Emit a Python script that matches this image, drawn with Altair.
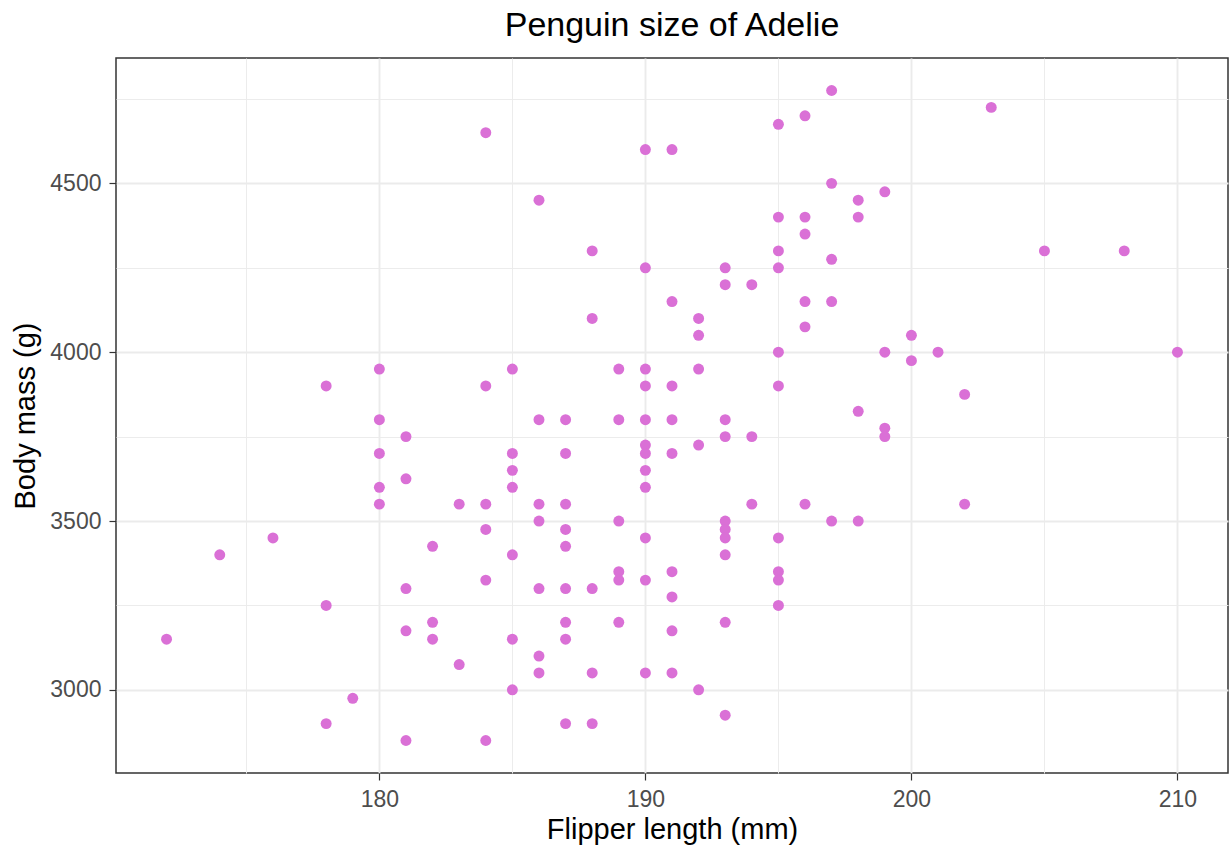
import altair as alt
import pandas as pd

# Adelie penguins: flipper length (mm) and body mass (g)
flipper_length_mm = [
    172, 174, 176,
    178, 178, 178,
    179,
    180, 180, 180, 180, 180,
    181, 181, 181, 181, 181,
    182, 182, 182,
    183, 183,
    184, 184, 184, 184, 184, 184,
    185, 185, 185, 185, 185, 185, 185,
    186, 186, 186, 186, 186, 186, 186,
    187, 187, 187, 187, 187, 187, 187, 187, 187,
    188, 188, 188, 188, 188,
    189, 189, 189, 189, 189, 189,
    190, 190, 190, 190, 190, 190, 190, 190, 190, 190, 190, 190,
    191, 191, 191, 191, 191, 191, 191, 191, 191,
    192, 192, 192, 192, 192,
    193, 193, 193, 193, 193, 193, 193, 193, 193, 193,
    194, 194, 194,
    195, 195, 195, 195, 195, 195, 195, 195, 195, 195,
    196, 196, 196, 196, 196, 196,
    197, 197, 197, 197, 197,
    198, 198, 198, 198,
    199, 199, 199, 199,
    200, 200,
    201,
    202, 202,
    203, 205, 208, 210,
]
body_mass_g = [
    3150, 3400, 3450,
    3900, 3250, 2900,
    2975,
    3950, 3800, 3700, 3600, 3550,
    3750, 3625, 3300, 3175, 2850,
    3425, 3200, 3150,
    3550, 3075,
    4650, 3900, 3550, 3475, 3325, 2850,
    3950, 3700, 3650, 3600, 3400, 3150, 3000,
    4450, 3800, 3550, 3500, 3300, 3100, 3050,
    3800, 3700, 3550, 3475, 3425, 3300, 3200, 3150, 2900,
    4300, 4100, 3300, 3050, 2900,
    3950, 3800, 3500, 3350, 3325, 3200,
    4600, 4250, 3950, 3900, 3800, 3725, 3700, 3650, 3600, 3450, 3325, 3050,
    4600, 4150, 3900, 3800, 3700, 3350, 3275, 3175, 3050,
    4100, 4050, 3950, 3725, 3000,
    4250, 4200, 3800, 3750, 3500, 3475, 3450, 3400, 3200, 2925,
    4200, 3750, 3550,
    4675, 4400, 4300, 4250, 4000, 3900, 3450, 3350, 3325, 3250,
    4700, 4400, 4350, 4150, 4075, 3550,
    4775, 4500, 4275, 4150, 3500,
    4450, 4400, 3825, 3500,
    4475, 4000, 3775, 3750,
    4050, 3975,
    4000,
    3875, 3550,
    4725, 4300, 4300, 4000,
]

# Major ticks are labelled; minor ticks only carry a thinner grid line
x_ticks = [175, 180, 185, 190, 195, 200, 205, 210]
y_ticks = [3000, 3250, 3500, 3750, 4000, 4250, 4500, 4750]
x_domain = [170.1, 211.9]
y_domain = [2753.75, 4871.25]

df = pd.DataFrame({"flipper": flipper_length_mm, "mass": body_mass_g})

FONT = "Liberation Sans"
x_major = "datum.value % 10 === 0"
y_major = "datum.value % 500 === 0"


def axis(values, major, title, title_pad, label_pad):
    return alt.Axis(
        values=values,
        title=title,
        format="d",
        labelExpr=f"{major} ? datum.label : ''",
        grid=True,
        gridColor="#EBEBEB",
        gridWidth={"condition": {"test": major, "value": 1.9}, "value": 0.95},
        domain=False,
        ticks=True,
        tickColor="#333333",
        tickWidth=1.2,
        tickSize=7,
        tickOpacity={"condition": {"test": major, "value": 1}, "value": 0},
        labelColor="#4D4D4D",
        labelFont=FONT,
        labelFontSize=23,
        labelPadding=label_pad,
        titleFont=FONT,
        titleFontSize=29,
        titleFontWeight="normal",
        titleColor="#000000",
        titlePadding=title_pad,
    )


chart = (
    alt.Chart(df)
    .mark_circle(color="#DA70D6", opacity=1, size=120)
    .encode(
        x=alt.X(
            "flipper:Q",
            scale=alt.Scale(domain=x_domain, nice=False, zero=False),
            axis=axis(x_ticks, x_major, "Flipper length (mm)", 4.5, 8),
        ),
        y=alt.Y(
            "mass:Q",
            scale=alt.Scale(domain=y_domain, nice=False, zero=False),
            axis=axis(y_ticks, y_major, "Body mass (g)", 9, 8),
        ),
    )
    .properties(
        width=1112,
        height=715,
        title=alt.TitleParams(
            "Penguin size of Adelie",
            font=FONT,
            fontSize=34,
            fontWeight="normal",
            color="#000000",
            anchor="middle",
            frame="group",
            baseline="alphabetic",
            offset=22,
            dy=34,
        ),
        autosize=alt.AutoSizeParams(type="none"),
        padding={"left": 116, "top": 58, "right": 1, "bottom": 74},
        background="#FFFFFF",
    )
    .configure_view(stroke="#333333", strokeWidth=1.5)
)

chart.save("out.html", embed_options={"renderer": "svg", "actions": False})
